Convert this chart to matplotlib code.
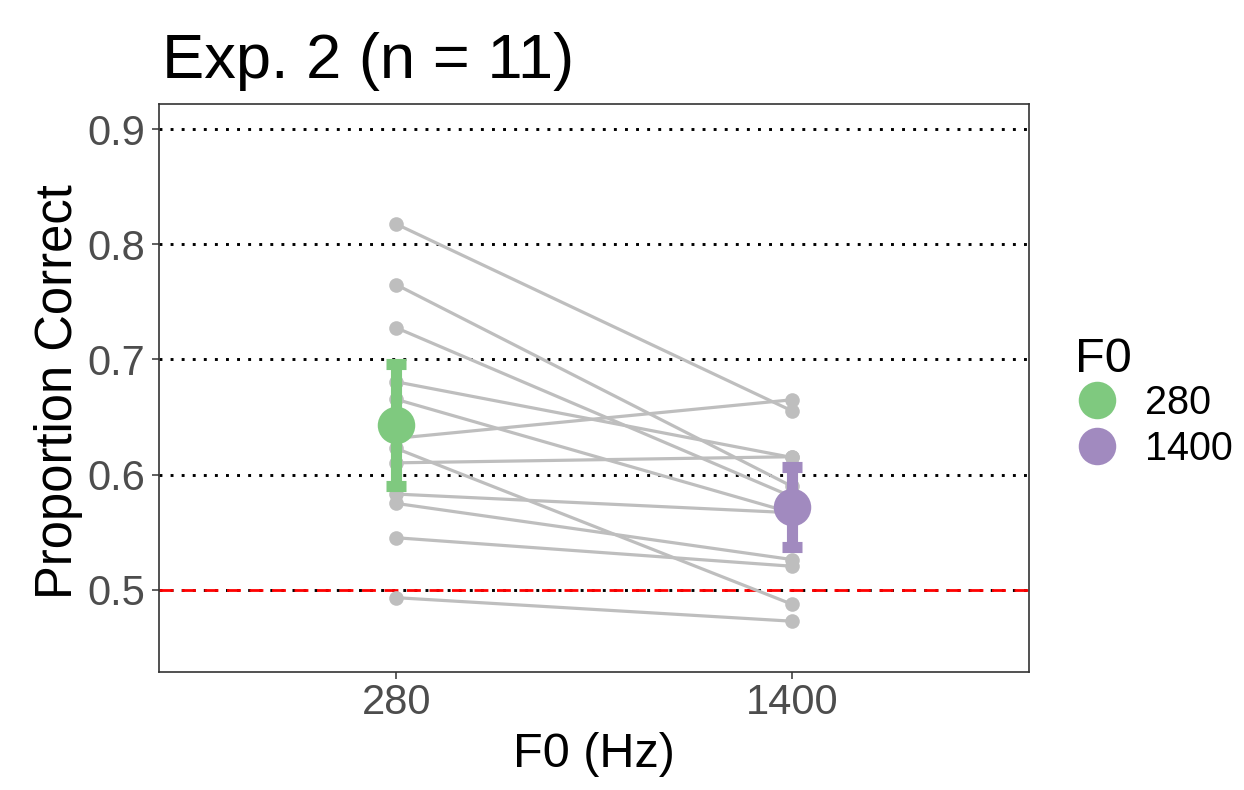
import numpy as np
import matplotlib
matplotlib.use("Agg")
import matplotlib.pyplot as plt
from matplotlib.lines import Line2D

plt.rcParams['font.family'] = ['Liberation Sans', 'DejaVu Sans']

# ---- data ----
categories = ["280", "1400"]
colors = ["#7FC97F", "#A18ABF"]
pc_280 = [0.8175, 0.7649, 0.7275, 0.6806, 0.6654, 0.6316, 0.6103, 0.6228,
          0.5832, 0.5751, 0.5453, 0.4933]
pc_1400 = [0.6555, 0.5900, 0.5810, 0.6150, 0.5670, 0.6650, 0.6156, 0.4877,
           0.5670, 0.5264, 0.5206, 0.4729]
yticks = [0.5, 0.6, 0.7, 0.8, 0.9]
title = "Exp. 2 (n = 11)"
xlabel = "F0 (Hz)"
ylabel = "Proportion Correct"
legend_title = "F0"

W, H = 1244, 790
fig = plt.figure(figsize=(W / 100, H / 100), dpi=100)
px = lambda x: x / W
py = lambda y: 1 - y / H

ax = fig.add_axes([px(159), py(672), px(1029) - px(159), py(104) - py(672)])
ax.set_xlim(0.4, 2.6)
ax.set_ylim(0.4288, 0.9217)

# grid (dotted)
for yv in yticks:
    ax.axhline(yv, color='black', lw=2.1, linestyle=(0, (1, 2.8)), zorder=1)
ax.axhline(0.5, color='#FF0000', lw=2.0, linestyle=(0, (5, 3.1)), zorder=1.5)

xs = np.array([1, 2])
data = np.array([pc_280, pc_1400])
for i in range(data.shape[1]):
    ax.plot(xs, data[:, i], color='#BEBEBE', lw=2.3, marker='o', ms=10.5,
            mec='none', zorder=2)

n = data.shape[1]
means = data.mean(axis=1)
se = data.std(axis=1, ddof=1) / np.sqrt(n)
for k in range(2):
    ax.errorbar(xs[k], means[k], yerr=1.96 * se[k], color=colors[k],
                elinewidth=8, capsize=7.2, capthick=8, fmt='none', zorder=3)
    ax.plot(xs[k], means[k], 'o', color=colors[k], ms=27, mec='none', zorder=4)

ax.set_xticks(xs)
ax.set_xticklabels(categories)
ax.set_yticks(yticks)
ax.set_yticklabels([f"{v:.1f}" for v in yticks])
ax.tick_params(axis='both', colors='#333333', labelcolor='#4D4D4D',
               labelsize=30, length=5, width=1.1)
ax.tick_params(axis='y', pad=5)
ax.tick_params(axis='x', pad=3)
for s in ax.spines.values():
    s.set_color('#333333')
    s.set_linewidth(1.2)

fig.text(px(162), py(78), title, fontsize=45.5, ha='left', va='baseline')
fig.text(px(594), py(767), xlabel, fontsize=35, ha='center', va='baseline')
fig.text(px(72), py(392), ylabel, fontsize=36.5, ha='center', va='baseline',
         rotation=90, rotation_mode='anchor')

# legend
fig.text(px(1075), py(372), legend_title, fontsize=35, ha='left', va='baseline')
ys_leg = [399.5, 445.5]
for k in range(2):
    fig.add_artist(Line2D([px(1097)], [py(ys_leg[k])], marker='o', ms=27,
                          color=colors[k], mec='none', linestyle='none',
                          transform=fig.transFigure))
    fig.text(px(1145), py(ys_leg[k] + 15), categories[k], fontsize=28.5,
             ha='left', va='baseline')

fig.savefig("out.png", dpi=100)
